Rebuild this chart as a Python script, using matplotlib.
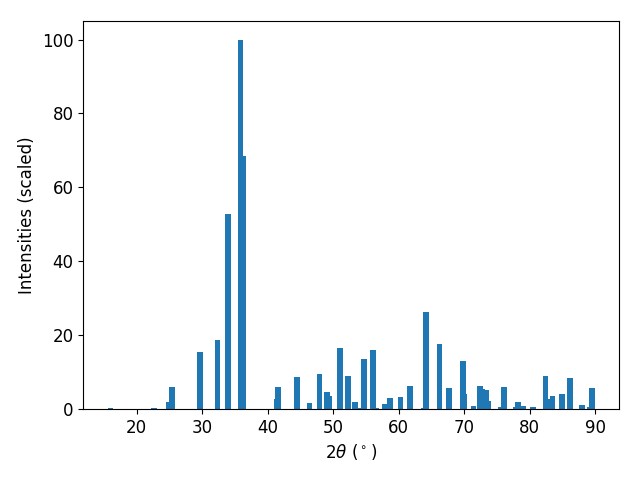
import matplotlib

matplotlib.use("Agg")
from matplotlib import pyplot as plt

# peak positions (2theta, degrees) and scaled intensities
two_theta = [
    15.96, 22.67, 24.88, 25.41, 29.68, 32.35, 33.95, 35.86, 36.24,
    41.31, 41.58, 44.48, 46.38, 47.91, 49.05, 49.32, 51.04, 52.26,
    53.32, 53.75, 54.69, 56.07, 56.5, 57.9, 58.66, 60.26, 61.71,
    63.8, 64.15, 66.21, 67.66, 67.76, 69.79, 70.07, 71.4, 72.39,
    72.75, 73.3, 73.7, 75.6, 76.05, 77.9, 78.18, 79.02, 80.47,
    82.38, 83.25, 83.5, 84.97, 86.11, 87.94, 89.2, 89.47,
]
intensity = [
    0.3, 0.3, 2.0, 6.0, 15.4, 18.7, 52.8, 100.0, 68.6,
    2.7, 6.0, 8.7, 1.6, 9.5, 4.6, 3.5, 16.5, 8.9,
    1.9, 0.3, 13.5, 16.0, 0.3, 1.4, 3.0, 3.25, 6.2,
    0.3, 26.2, 17.6, 5.7, 2.7, 13.0, 4.1, 0.8, 6.2,
    5.4, 5.1, 2.2, 0.5, 6.0, 0.5, 1.9, 0.8, 0.4,
    8.9, 2.7, 3.5, 4.0, 8.4, 1.1, 0.5, 5.7,
]

fig, ax = plt.subplots(figsize=(6.4, 4.8), dpi=100)
fig.subplots_adjust(left=0.13, right=0.967, top=0.956, bottom=0.148)
ax.bar(two_theta, intensity, width=0.85, color="#1f77b4")
ax.set_xlabel(r"$2\theta$ ($^\circ$)", fontsize=12)
ax.set_ylabel("Intensities (scaled)", fontsize=12)
ax.tick_params(labelsize=12)
fig.savefig("out.png", dpi=100)
plt.close(fig)
